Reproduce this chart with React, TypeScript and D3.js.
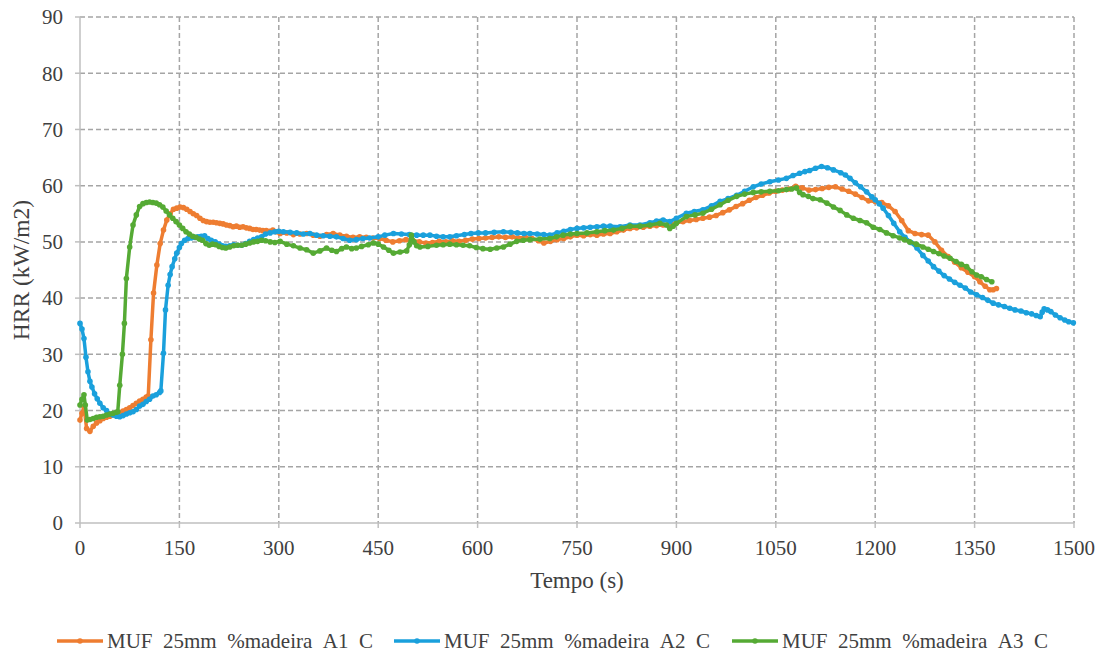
import React from "react";
import * as d3 from "d3";

const xTicks = [0, 150, 300, 450, 600, 750, 900, 1050, 1200, 1350, 1500];
const yTicks = [0, 10, 20, 30, 40, 50, 60, 70, 80, 90];

const a1Time = [0,3,6,10,15,20,25,30,35,40,45,50,55,60,65,70,75,80,85,90,95,100,103,107,111,116,121,126,131,136,141,146,151,156,161,166,171,176,181,186,191,196,201,206,211,216,221,226,231,236,241,246,251,256,261,266,271,276,281,286,291,296,302,312,322,332,342,352,362,372,382,392,402,412,422,432,442,452,462,472,482,492,502,512,522,532,542,552,562,572,582,592,602,612,622,632,642,652,662,672,682,692,700,710,720,730,740,750,760,770,780,790,800,810,820,830,840,850,860,870,880,890,900,910,920,930,940,950,960,970,980,990,1000,1010,1020,1030,1040,1050,1060,1070,1080,1090,1100,1110,1120,1130,1140,1150,1160,1170,1180,1190,1200,1210,1220,1230,1240,1250,1260,1270,1280,1290,1300,1310,1320,1330,1340,1350,1358,1366,1373,1378,1383];
const a1HRR = [18.3,19.5,20.7,16.8,16.3,17.2,17.8,18.2,18.6,18.8,19.0,19.2,19.5,19.6,19.9,20.2,20.5,20.9,21.3,21.7,22.0,22.4,22.6,32.6,40.9,45.9,49.7,52.1,53.9,55.0,55.8,56.0,56.2,56.1,55.8,55.4,55.0,54.7,54.2,53.8,53.6,53.5,53.5,53.4,53.3,53.2,53.0,52.9,52.7,52.8,52.6,52.7,52.5,52.4,52.2,52.2,52.1,52.0,52.0,51.9,52.1,51.8,51.5,51.6,51.3,51.4,51.5,51.2,51.0,51.3,51.5,51.2,51.0,50.8,50.9,50.8,50.7,50.6,50.3,50.0,50.2,50.4,50.3,50.0,49.8,49.9,50.1,50.0,50.2,50.1,50.3,50.5,50.6,50.7,50.8,50.9,50.8,50.9,50.7,50.8,50.6,50.2,49.8,50.1,50.4,50.6,50.9,51.2,51.1,51.3,51.2,51.4,51.5,51.8,52.1,52.4,52.5,52.6,52.8,52.9,53.0,53.2,53.4,53.6,53.8,54.0,54.2,54.4,54.7,55.2,55.7,56.3,56.8,57.4,57.9,58.3,58.7,59.0,59.2,59.4,59.9,59.6,59.2,59.3,59.5,59.7,59.8,59.4,59.0,58.5,57.9,57.3,57.2,57.0,56.4,55.4,53.8,52.0,51.5,51.3,51.2,50.0,48.5,47.4,46.4,45.4,44.6,43.8,42.9,42.1,41.5,41.5,41.7];

const a2Time = [0,3,6,9,12,15,18,22,26,30,35,40,45,50,55,60,65,70,75,80,85,90,95,100,105,110,115,120,122,126,129,133,136,139,143,146,150,153,158,163,168,173,178,183,188,193,198,204,210,215,220,226,232,238,244,250,256,262,268,274,280,287,294,300,307,317,327,337,347,357,367,377,387,397,407,417,427,437,450,460,473,485,497,508,518,528,538,548,558,568,580,590,601,612,625,639,650,660,670,679,690,700,709,720,730,740,750,760,770,780,790,800,815,830,845,860,870,880,890,900,915,927,940,953,966,978,991,1003,1016,1028,1041,1054,1066,1076,1086,1094,1101,1110,1119,1128,1137,1148,1155,1162,1170,1178,1187,1195,1200,1206,1212,1220,1228,1237,1245,1254,1263,1272,1280,1288,1296,1304,1312,1320,1328,1336,1344,1353,1362,1370,1378,1386,1395,1403,1411,1420,1428,1436,1443,1449,1452,1455,1460,1465,1472,1479,1486,1492,1499];
const a2HRR = [35.5,34.5,32.8,29.5,26.9,25.2,24.2,23.0,22.1,21.3,20.5,20.0,19.4,19.2,19.0,18.9,19.1,19.4,19.6,19.8,20.2,20.8,21.1,21.6,22.0,22.6,22.8,23.2,23.5,30.2,37.9,42.3,44.2,45.6,47.0,48.0,49.0,49.7,50.3,50.6,50.7,50.8,50.9,51.0,51.1,50.6,50.3,50.0,49.6,49.3,49.2,49.3,49.5,49.4,49.4,49.7,50.1,50.4,50.7,50.9,51.4,51.6,51.8,51.9,51.8,51.7,51.6,51.4,51.5,51.2,51.1,51.0,50.9,50.6,50.3,50.4,50.6,50.7,50.9,51.2,51.5,51.4,51.3,51.2,51.2,51.2,51.0,50.9,50.9,51.1,51.3,51.5,51.6,51.6,51.7,51.8,51.7,51.6,51.5,51.5,51.4,51.3,51.2,51.6,51.9,52.2,52.4,52.5,52.6,52.7,52.8,52.8,52.7,53.0,53.0,53.4,53.7,53.9,53.6,54.2,55.1,55.4,55.7,56.4,57.2,57.7,58.3,59.0,59.8,60.3,60.7,61.0,61.3,61.8,62.2,62.5,62.7,63.1,63.4,63.2,62.8,62.3,61.9,61.3,60.5,59.8,58.9,58.0,57.5,56.8,56.0,54.7,53.3,51.8,50.8,49.9,48.9,47.6,46.6,45.6,44.8,44.0,43.4,42.8,42.3,41.8,41.1,40.6,40.1,39.6,39.1,38.8,38.5,38.2,37.9,37.7,37.4,37.2,36.9,36.7,37.5,38.1,37.9,37.6,37.0,36.5,36.1,35.8,35.6];

const a3Time = [0,3,6,8,11,15,20,25,30,35,40,45,50,55,57,60,64,67,70,75,80,85,90,95,100,105,110,115,120,125,130,135,140,145,150,155,160,165,170,175,180,185,190,195,200,205,210,215,220,226,232,238,244,250,256,262,268,274,280,287,294,302,312,322,332,342,352,362,372,380,387,395,402,410,417,425,435,443,450,458,466,473,483,493,497,500,504,508,513,525,538,548,558,568,578,588,598,608,619,629,639,649,659,669,679,694,709,719,729,740,750,765,780,792,805,818,830,845,860,875,885,890,895,900,915,928,940,953,966,978,991,1003,1016,1028,1041,1054,1066,1074,1081,1086,1091,1099,1106,1117,1127,1137,1147,1157,1167,1177,1187,1197,1207,1217,1227,1237,1244,1252,1262,1272,1280,1288,1296,1304,1313,1322,1330,1338,1346,1353,1360,1368,1376];
const a3HRR = [21.0,22.0,22.8,21.0,18.3,18.4,18.6,18.8,18.9,19.0,19.2,19.4,19.5,19.7,19.8,24.5,30.0,35.5,43.5,49.1,53.0,54.8,56.3,56.8,57.0,57.1,57.0,56.9,56.6,56.2,55.5,54.8,54.2,53.6,53.0,52.4,51.8,51.4,51.0,50.8,50.5,50.3,49.7,49.4,49.6,49.5,49.2,49.0,48.9,49.1,49.3,49.4,49.4,49.6,49.8,50.0,50.1,50.3,50.2,50.0,49.9,50.1,49.6,49.3,48.9,48.6,48.0,48.4,48.9,48.5,48.3,48.8,49.1,48.8,48.9,49.2,49.5,49.8,49.6,49.1,48.5,48.0,48.2,48.4,49.5,51.2,50.0,49.3,49.1,49.2,49.4,49.5,49.6,49.5,49.4,49.3,49.0,48.8,48.7,48.9,49.1,49.6,50.1,50.3,50.4,50.5,50.6,50.9,51.2,51.4,51.5,51.6,51.8,52.0,52.1,52.4,52.8,52.8,53.0,53.3,53.0,52.4,52.8,53.3,54.5,54.8,55.1,55.8,56.6,57.4,58.1,58.5,58.8,58.9,59.0,59.1,59.3,59.4,59.6,58.8,58.4,58.1,57.7,57.5,56.9,56.2,55.6,54.8,54.2,53.8,53.4,52.6,52.2,51.6,51.1,50.7,50.4,50.0,49.6,49.1,48.7,48.3,47.9,47.5,47.1,46.5,46.0,45.6,44.7,44.1,43.8,43.3,42.9];

const seriesNames = ["MUF_25mm_%madeira_A1_C", "MUF_25mm_%madeira_A2_C", "MUF_25mm_%madeira_A3_C"];
const seriesColors = ["#EE7D31", "#1AA0DC", "#55AA34"];
const seriesTimes = [a1Time, a2Time, a3Time];
const seriesValues = [a1HRR, a2HRR, a3HRR];

const W = 1105;
const H = 657;
const M = { left: 80, right: 1074, top: 17, bottom: 523 };
const FONT = "Liberation Serif, Times New Roman, Times, serif";

export default function App() {
  const x = d3.scaleLinear().domain([0, 1500]).range([M.left, M.right]);
  const y = d3.scaleLinear().domain([0, 90]).range([M.bottom, M.top]);
  const line = d3
    .line<[number, number]>()
    .x((d) => x(d[0]))
    .y((d) => y(d[1]));

  const series = seriesNames.map((name, i) => ({
    name,
    color: seriesColors[i],
    pts: seriesTimes[i].map((t, j) => [t, seriesValues[i][j]] as [number, number]),
  }));

  const legendLine = [[57, 103], [394, 440], [732, 778]];
  const legendText = [107, 444, 782];

  return (
    <div style={{ margin: -8 }}>
      <svg width={W} height={H} style={{ display: "block", background: "#fff" }}>
        {yTicks.filter((v) => v > 0).map((v) => (
          <line key={"gy" + v} x1={M.left} x2={M.right} y1={y(v)} y2={y(v)} stroke="#A5A5A5" strokeWidth={1.5} strokeDasharray="5,3" />
        ))}
        {xTicks.filter((v) => v > 0).map((v) => (
          <line key={"gx" + v} x1={x(v)} x2={x(v)} y1={M.top} y2={M.bottom} stroke="#A5A5A5" strokeWidth={1.5} strokeDasharray="5,3" />
        ))}
        <line x1={M.left} x2={M.left} y1={M.top} y2={M.bottom} stroke="#BFBFBF" strokeWidth={1.5} />
        <line x1={M.left} x2={M.right} y1={M.bottom} y2={M.bottom} stroke="#BFBFBF" strokeWidth={1.5} />
        {yTicks.map((v) => (
          <g key={"ty" + v}>
            <line x1={M.left - 5} x2={M.left} y1={y(v)} y2={y(v)} stroke="#BFBFBF" strokeWidth={1.5} />
            <text x={63} y={y(v)} dy="0.35em" textAnchor="end" fontFamily={FONT} fontSize={21} fill="#404040">
              {v}
            </text>
          </g>
        ))}
        {xTicks.map((v) => (
          <g key={"tx" + v}>
            <line x1={x(v)} x2={x(v)} y1={M.bottom} y2={M.bottom + 5} stroke="#BFBFBF" strokeWidth={1.5} />
            <text x={x(v)} y={555} textAnchor="middle" fontFamily={FONT} fontSize={21} fill="#404040">
              {v}
            </text>
          </g>
        ))}
        <text x={(M.left + M.right) / 2} y={588} textAnchor="middle" fontFamily={FONT} fontSize={23} fill="#404040">
          Tempo (s)
        </text>
        <text transform={`translate(29,${(M.top + M.bottom) / 2}) rotate(-90)`} textAnchor="middle" fontFamily={FONT} fontSize={23.5} fill="#404040">
          HRR (kW/m2)
        </text>
        {series.map((s) => (
          <g key={s.name}>
            <path d={line(s.pts) || ""} fill="none" stroke={s.color} strokeWidth={3.5} strokeLinejoin="round" />
            {s.pts.map((p, j) => (
              <circle key={j} cx={x(p[0])} cy={y(p[1])} r={2.8} fill={s.color} />
            ))}
          </g>
        ))}
        {series.map((s, i) => (
          <g key={"lg" + i}>
            <line x1={legendLine[i][0]} x2={legendLine[i][1]} y1={641} y2={641} stroke={s.color} strokeWidth={3.5} />
            <circle cx={(legendLine[i][0] + legendLine[i][1]) / 2} cy={641} r={2.8} fill={s.color} />
            <text x={legendText[i]} y={641} dy="0.35em" fontFamily={FONT} fontSize={21} fill="#404040">
              {s.name}
            </text>
          </g>
        ))}
      </svg>
    </div>
  );
}
